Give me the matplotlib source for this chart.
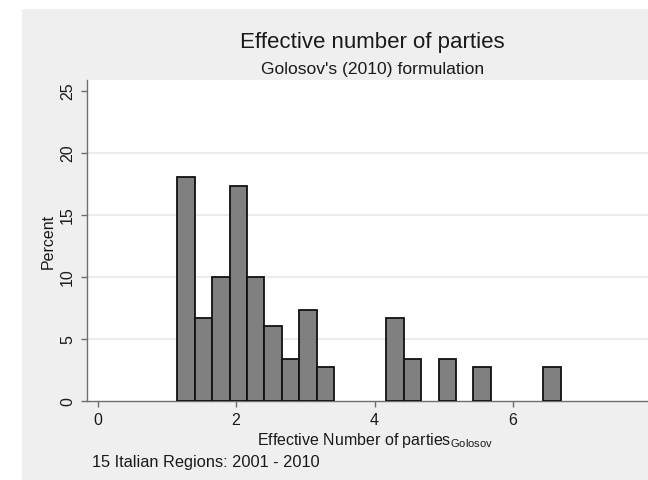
import numpy as np
import matplotlib
matplotlib.use("Agg")
import matplotlib.pyplot as plt
from matplotlib.patches import Rectangle

plt.rcParams["font.family"] = ["Liberation Sans", "DejaVu Sans"]

# Histogram of the effective number of parties (Golosov), percent per bin
bin_start = 1.152
bin_width = 0.2515
percent = [18.00, 6.67, 10.00, 17.33, 10.00, 6.00, 3.33, 7.33, 2.67,
           0.00, 0.00, 0.00, 6.67, 3.33, 0.00, 3.33, 0.00, 2.67,
           0.00, 0.00, 0.00, 2.67]
x_ticks = [0, 2, 4, 6, 8]
y_ticks = [0, 5, 10, 15, 20, 25]

title = "Effective number of parties"
subtitle = "Golosov's (2010) formulation"
x_label = r"Effective Number of parties$_{\mathregular{Golosov}}$"
y_label = "Percent"
note = "15 Italian Regions: 2001 - 2010"

W, H = 648, 481
fig = plt.figure(figsize=(W / 100, H / 100), dpi=100, facecolor="white")


def fx(px):
    return px / W


def fy(py):
    return 1 - py / H


# graph region background
fig.patches.append(Rectangle((fx(22), 0), 1 - fx(22), fy(10), transform=fig.transFigure,
                             facecolor="#efefef", edgecolor="none", zorder=-5))

ax_left, ax_right, ax_top, ax_bottom = 87, 662, 81, 401.5
ax = fig.add_axes([fx(ax_left), fy(ax_bottom), fx(ax_right - ax_left), (ax_bottom - ax_top) / H])
ax.set_zorder(2)
ax.set_facecolor("white")

lefts = bin_start + bin_width * np.arange(len(percent))
vals = np.array(percent)
mask = vals > 0
ax.bar(lefts[mask], vals[mask], width=bin_width, align="edge",
       facecolor="#808080", edgecolor="#111111", linewidth=1.3, zorder=3)

ax.set_xlim(-0.152, 8.15)
ax.set_ylim(0, 25.85)
ax.set_xticks(x_ticks)
ax.set_yticks(y_ticks)

# light horizontal rules at the inner y ticks
for yv in y_ticks[1:-1]:
    ax.axhline(yv, color="#e6e6e6", linewidth=1.1, zorder=0)

for s in ("top", "right"):
    ax.spines[s].set_visible(False)
for s in ("left", "bottom"):
    ax.spines[s].set_color("#6e6e6e")
    ax.spines[s].set_linewidth(1.0)

ax.tick_params(axis="both", direction="out", length=4.5, width=1.0, color="#6e6e6e",
               labelsize=11.5, labelcolor="#1a1a1a")
ax.tick_params(axis="x", pad=4)
ax.tick_params(axis="y", pad=4)
for lab in ax.get_yticklabels():
    lab.set_rotation(90)
    lab.set_va("center")

ax.set_ylabel(y_label, fontsize=11.5, color="#1a1a1a", labelpad=3)

fig.text(fx(375), fy(445), x_label, ha="center", va="baseline", fontsize=11.5, color="#1a1a1a")
fig.text(fx(372), fy(48), title, ha="center", va="baseline", fontsize=16, color="#1a1a1a")
fig.text(fx(373), fy(74), subtitle, ha="center", va="baseline", fontsize=12.6, color="#1a1a1a")
fig.text(fx(92), fy(467), note, ha="left", va="baseline", fontsize=11.75, color="#1a1a1a")

fig.savefig("out.png", dpi=100, facecolor="white")
